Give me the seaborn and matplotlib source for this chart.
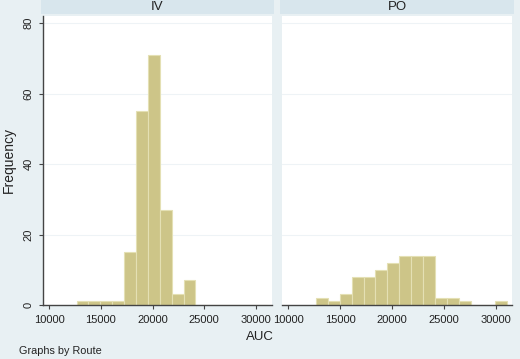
import numpy as np
import matplotlib
matplotlib.use('Agg')
import matplotlib.pyplot as plt
import seaborn as sns

# bin edges (Stata default bins shared by both panels)
bin_edges = [12650, 13800, 14950, 16100, 17250, 18400, 19550, 20700, 21850,
             23000, 24150, 25300, 26450, 27600, 28750, 29900, 31050]
iv_counts = [1, 1, 1, 1, 15, 55, 71, 27, 3, 7, 0, 0, 0, 0, 0, 0]
po_counts = [2, 1, 3, 8, 8, 10, 12, 14, 14, 14, 2, 2, 1, 0, 0, 1]
routes = ['IV', 'PO']
x_ticks = [10000, 15000, 20000, 25000, 30000]
y_ticks = [0, 20, 40, 60, 80]

sns.set_style('white')
plt.rcParams['font.family'] = ['Liberation Sans', 'DejaVu Sans']

bar_color = '#cdc588'
edge_color = '#e4e0b4'
bg_color = '#e8f0f3'
strip_color = '#d8e6ed'
txt = '#222222'

fig = plt.figure(figsize=(5.2, 3.59), dpi=100, facecolor=bg_color)

centers = [(a + b) / 2 for a, b in zip(bin_edges[:-1], bin_edges[1:])]
panels = [(routes[0], iv_counts, 43, 272), (routes[1], po_counts, 282, 512)]

for i, (name, counts, x0, x1) in enumerate(panels):
    ax = fig.add_axes([x0 / 520, 1 - 305 / 359, (x1 - x0) / 520, (305 - 16) / 359])
    ax.set_facecolor('white')
    sns.histplot(x=centers, weights=counts, bins=bin_edges, ax=ax,
                 color=bar_color, edgecolor=edge_color, linewidth=0.8, alpha=1)
    ax.set_xlim(9400, 31550)
    ax.set_ylim(0, 82)
    ax.set_xticks(x_ticks)
    ax.set_yticks(y_ticks)
    for yv in y_ticks[1:]:
        ax.axhline(yv, color='#eef3f6', linewidth=0.8, zorder=0)
    ax.set_xlabel('')
    ax.set_ylabel('')
    for s in ['top', 'right']:
        ax.spines[s].set_visible(False)
    ax.spines['bottom'].set_color('#444444')
    ax.spines['bottom'].set_linewidth(1.0)
    ax.tick_params(axis='x', direction='out', length=3, width=0.8, color='#444444',
                   labelsize=8, pad=4.5, labelcolor=txt, bottom=True)
    if i == 0:
        ax.spines['left'].set_color('#444444')
        ax.spines['left'].set_linewidth(1.0)
        ax.tick_params(axis='y', direction='out', length=3, width=0.8, color='#444444',
                       labelsize=8, pad=4, labelcolor=txt, left=True)
        for lbl in ax.get_yticklabels():
            lbl.set_rotation(90)
            lbl.set_va('center')
    else:
        ax.spines['left'].set_visible(False)
        ax.tick_params(axis='y', left=False, labelleft=False)

    # strip header
    sx0 = (x0 - 2) / 520
    sx1 = (x1 + 2) / 520
    fig.patches.append(plt.Rectangle((sx0, 1 - 14 / 359), sx1 - sx0, 14 / 359,
                                     transform=fig.transFigure, facecolor=strip_color,
                                     edgecolor='none', zorder=0))
    fig.text((sx0 + sx1) / 2, 1 - 7.5 / 359, name, ha='center', va='center',
             fontsize=9.5, color=txt)

fig.text(9 / 520, 1 - 160 / 359, 'Frequency', rotation=90, ha='center', va='center',
         fontsize=10, color=txt)
fig.text(260 / 520, 1 - 337 / 359, 'AUC', ha='center', va='center',
         fontsize=9.5, color=txt)
fig.text(19 / 520, 1 - 351 / 359, 'Graphs by Route', ha='left', va='center',
         fontsize=7.8, color=txt)

fig.savefig('out.png', dpi=100, facecolor=bg_color)
